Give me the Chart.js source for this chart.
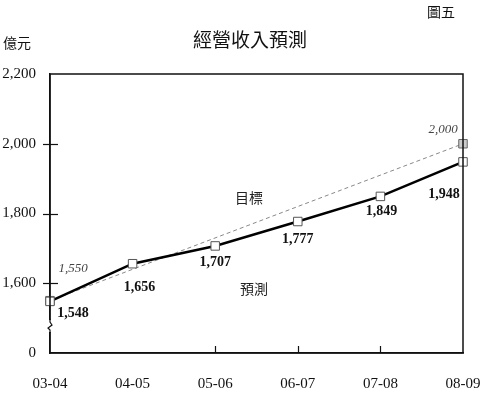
<!DOCTYPE html>
<html>
<head>
<meta charset="utf-8">
<script src="https://cdn.jsdelivr.net/npm/chart.js@4/dist/chart.umd.min.js"></script>
<style>
  html, body { margin: 0; padding: 0; background: #fff; }
  #wrap { width: 480px; height: 395px; }
</style>
</head>
<body>
<div id="wrap"><canvas id="chart" width="480" height="395"></canvas></div>
<script>
// data
const years = ['03-04', '04-05', '05-06', '06-07', '07-08', '08-09'];
const forecast = [1548, 1656, 1707, 1777, 1849, 1948];
const target = [1550, null, null, null, null, 2000];
const yTicks = [1400, 1600, 1800, 2000, 2200];
const yTickLabels = ['0', '1,600', '1,800', '2,000', '2,200'];

const SERIF = '"Liberation Serif", "DejaVu Serif", serif';
const CJK = '"Noto Sans CJK TC", "Noto Sans CJK SC", sans-serif';

const fmt = v => v.toLocaleString('en-US');

// label offsets from each point (px)
const forecastOffsets = [[23, 12], [7, 24], [0, 16], [0, 18], [1, 15], [-19, 33]];
const targetOffsets = [[23, -32], null, null, null, null, [-20, -14]];

const extras = {
  id: 'extras',
  afterDraw(chart) {
    const { ctx, chartArea: a, scales: { x, y } } = chart;
    ctx.save();

    // frame
    ctx.strokeStyle = '#111';
    ctx.lineWidth = 1.5;
    ctx.strokeRect(a.left, a.top, a.right - a.left, a.bottom - a.top);

    // y tick marks crossing the axis
    ctx.lineWidth = 1.2;
    [1600, 1800, 2000].forEach(v => {
      const py = Math.round(y.getPixelForValue(v)) + 0.5;
      ctx.beginPath();
      ctx.moveTo(a.left - 7, py);
      ctx.lineTo(a.left + 8, py);
      ctx.stroke();
    });
    // x tick marks pointing up
    for (let i = 2; i < years.length - 1; i++) {
      const px = Math.round(x.getPixelForValue(i)) + 0.5;
      ctx.beginPath();
      ctx.moveTo(px, a.bottom);
      ctx.lineTo(px, a.bottom - 7);
      ctx.stroke();
    }

    // axis break zigzag
    const bx = a.left, by = a.bottom - 27;
    ctx.fillStyle = '#fff';
    ctx.fillRect(bx - 3, by - 6, 6, 12);
    ctx.strokeStyle = '#111';
    ctx.lineWidth = 1.2;
    ctx.beginPath();
    ctx.moveTo(bx, by - 7);
    ctx.lineTo(bx, by - 4);
    ctx.lineTo(bx + 2, by - 1);
    ctx.lineTo(bx - 2, by + 2);
    ctx.lineTo(bx, by + 4);
    ctx.lineTo(bx, by + 7);
    ctx.stroke();

    // value labels
    ctx.textAlign = 'center';
    ctx.textBaseline = 'middle';
    ctx.fillStyle = '#111';
    ctx.font = 'bold 14px ' + SERIF;
    const m0 = chart.getDatasetMeta(0);
    forecast.forEach((v, i) => {
      const p = m0.data[i];
      const [dx, dy] = forecastOffsets[i];
      ctx.fillText(fmt(v), p.x + dx, p.y + dy);
    });
    ctx.font = 'italic 13px ' + SERIF;
    ctx.fillStyle = '#444';
    const m1 = chart.getDatasetMeta(1);
    target.forEach((v, i) => {
      if (v == null || !targetOffsets[i]) return;
      const p = m1.data[i];
      const [dx, dy] = targetOffsets[i];
      ctx.fillText(fmt(v), p.x + dx, p.y + dy);
    });

    // series names
    ctx.fillStyle = '#222';
    ctx.font = '14px ' + CJK;
    ctx.fillText('目標', 249, 198);
    ctx.fillText('預測', 254, 289);

    // titles
    ctx.fillStyle = '#111';
    ctx.font = '19px ' + CJK;
    ctx.fillText('經營收入預測', 250, 40);
    ctx.font = '14px ' + CJK;
    ctx.fillText('圖五', 441, 12);
    ctx.textAlign = 'left';
    ctx.fillText('億元', 3, 43);

    ctx.restore();
  }
};

new Chart(document.getElementById('chart'), {
  type: 'line',
  data: {
    labels: years,
    datasets: [
      {
        label: '預測',
        data: forecast,
        borderColor: '#000',
        borderWidth: 2.5,
        pointStyle: 'rect',
        pointRadius: 6,
        pointBackgroundColor: '#fff',
        pointBorderColor: '#555',
        pointBorderWidth: 1,
        tension: 0,
        order: 1
      },
      {
        label: '目標',
        data: target,
        spanGaps: true,
        borderColor: '#888',
        borderWidth: 1,
        borderDash: [4, 3],
        pointStyle: 'rect',
        pointRadius: 6,
        pointBackgroundColor: '#ccc',
        pointBorderColor: '#666',
        pointBorderWidth: 1,
        tension: 0,
        order: 2
      }
    ]
  },
  options: {
    responsive: false,
    animation: false,
    events: [],
    layout: { padding: { top: 74, right: 0, left: 0, bottom: 0 } },
    plugins: {
      legend: { display: false },
      tooltip: { enabled: false }
    },
    scales: {
      x: {
        offset: false,
        grid: { display: false, drawTicks: false },
        border: { display: true, color: '#111', width: 1.5 },
        ticks: {
          color: '#111',
          font: { family: SERIF, size: 15 },
          padding: 22,
          maxRotation: 0,
          autoSkip: false
        },
        afterFit: s => { s.height = 42; s.paddingLeft = 0; s.paddingRight = 17; }
      },
      y: {
        min: 1400,
        max: 2200,
        grid: { display: false, drawTicks: false },
        border: { display: true, color: '#111', width: 1.5 },
        afterBuildTicks: s => { s.ticks = yTicks.map(v => ({ value: v })); },
        ticks: {
          color: '#111',
          font: { family: SERIF, size: 15 },
          padding: 14,
          callback: (v) => yTickLabels[yTicks.indexOf(v)]
        },
        afterFit: s => { s.width = 50; }
      }
    }
  },
  plugins: [extras]
});
</script>
</body>
</html>
